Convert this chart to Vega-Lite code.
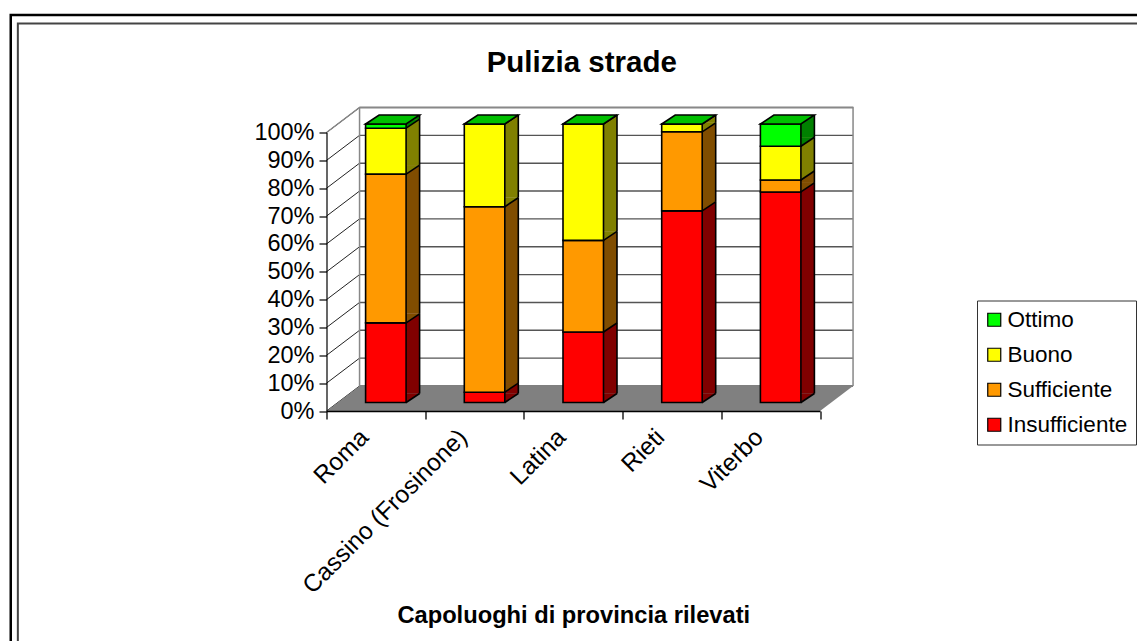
{
"$schema":"https://vega.github.io/schema/vega-lite/v6.json",
"autosize":{"type":"none"},
"padding":{"left":326.5,"top":107.5,"right":284,"bottom":230},
"width":526.5,"height":303.5,
"background":"white",
"config":{"view":{"stroke":null},"font":"Liberation Sans"},
"title":{"text":"Pulizia strade","font":"Liberation Sans","fontSize":29.5,"fontWeight":"bold","color":"black","anchor":"middle","dx":-8,"offset":-68},
"datasets":{
"scores":[
{"city":"Roma","giudizio":"Insufficiente","rank":1,"value":28.6},
{"city":"Roma","giudizio":"Sufficiente","rank":2,"value":53.4},
{"city":"Roma","giudizio":"Buono","rank":3,"value":16.5},
{"city":"Roma","giudizio":"Ottimo","rank":4,"value":1.5},
{"city":"Cassino (Frosinone)","giudizio":"Insufficiente","rank":1,"value":3.7},
{"city":"Cassino (Frosinone)","giudizio":"Sufficiente","rank":2,"value":66.6},
{"city":"Cassino (Frosinone)","giudizio":"Buono","rank":3,"value":29.7},
{"city":"Cassino (Frosinone)","giudizio":"Ottimo","rank":4,"value":0},
{"city":"Latina","giudizio":"Insufficiente","rank":1,"value":25.3},
{"city":"Latina","giudizio":"Sufficiente","rank":2,"value":32.9},
{"city":"Latina","giudizio":"Buono","rank":3,"value":41.8},
{"city":"Latina","giudizio":"Ottimo","rank":4,"value":0},
{"city":"Rieti","giudizio":"Insufficiente","rank":1,"value":68.8},
{"city":"Rieti","giudizio":"Sufficiente","rank":2,"value":28.4},
{"city":"Rieti","giudizio":"Buono","rank":3,"value":2.8},
{"city":"Rieti","giudizio":"Ottimo","rank":4,"value":0},
{"city":"Viterbo","giudizio":"Insufficiente","rank":1,"value":75.6},
{"city":"Viterbo","giudizio":"Sufficiente","rank":2,"value":4.3},
{"city":"Viterbo","giudizio":"Buono","rank":3,"value":12.1},
{"city":"Viterbo","giudizio":"Ottimo","rank":4,"value":8}
],
"levels":[{"pct":0},{"pct":10},{"pct":20},{"pct":30},{"pct":40},{"pct":50},{"pct":60},{"pct":70},{"pct":80},{"pct":90},{"pct":100}],
"base":[{"pct":0}]
},
"layer":[
{"data":{"name":"base"},
"mark":{"type":"point","shape":"M-365.1,300L-365.1,-396L800,-396","size":4,"filled":false,"stroke":"black","strokeWidth":2.5,"opacity":1},
"encoding":{
"x":{"datum":"Roma","type":"nominal","title":"Capoluoghi di provincia rilevati",
"scale":{"type":"band","domain":["Roma","Cassino (Frosinone)","Latina","Rieti","Viterbo"],"range":[0,493.5],"paddingInner":0,"paddingOuter":0},
"axis":{"zindex":1,"tickBand":"extent","domainColor":"black","domainWidth":1.5,"tickColor":"black","tickWidth":1.3,"tickSize":8,"labelAngle":-45,"labelAlign":"right","labelBaseline":"top","labelFontSize":24.5,"labelColor":"black","labelFont":"Liberation Sans","labelPadding":6,"labelOffset":-20,"labelOverlap":false,"labelLimit":400,"titleFont":"Liberation Sans","titleFontSize":23.7,"titleFontWeight":"bold","titleColor":"black","titleX":246.75,"titleY":211,"titleAnchor":"middle","titleBaseline":"alphabetic"}},
"y":{"field":"pct","type":"quantitative","title":null,
"scale":{"domain":[0,100],"range":[303.5,25],"nice":false},
"axis":{"zindex":1,"values":[0,10,20,30,40,50,60,70,80,90,100],"tickCount":11,"labelExpr":"datum.value+'%'","grid":false,"domainColor":"black","domainWidth":1.2,"tickColor":"black","tickWidth":1.2,"tickSize":7.5,"labelFontSize":23.5,"labelColor":"black","labelFont":"Liberation Sans","labelPadding":5,"labelOverlap":false}}
}},
{"data":{"name":"base"},
"mark":{"type":"point","shape":"M-358,300L-358,-387.5L800,-387.5","size":4,"filled":false,"stroke":"#444444","strokeWidth":2,"opacity":1},
"encoding":{"x":{"datum":"Roma","type":"nominal","title":"Capoluoghi di provincia rilevati"},"y":{"field":"pct","type":"quantitative","title":null}}},
{"data":{"name":"levels"},
"mark":{"type":"point","shape":"M-16.3,-25L477.2,-25","size":4,"filled":false,"stroke":"#555555","strokeWidth":1.4,"opacity":1},
"encoding":{"x":{"datum":"Roma","type":"nominal","title":"Capoluoghi di provincia rilevati"},"y":{"field":"pct","type":"quantitative","title":null}}},
{"data":{"name":"levels"},
"mark":{"type":"point","shape":"M-49.3,0L-16.3,-25","size":4,"filled":false,"stroke":"#222222","strokeWidth":1,"opacity":1},
"encoding":{"x":{"datum":"Roma","type":"nominal","title":"Capoluoghi di provincia rilevati"},"y":{"field":"pct","type":"quantitative","title":null}}},
{"data":{"name":"base"},
"mark":{"type":"point","shape":"M-16.3,-25L-16.3,-303.5M-49.3,-278.5L-16.3,-303.5L477.2,-303.5L477.2,-25","size":4,"filled":false,"stroke":"#888888","strokeWidth":1.5,"opacity":1},
"encoding":{"x":{"datum":"Roma","type":"nominal","title":"Capoluoghi di provincia rilevati"},"y":{"field":"pct","type":"quantitative","title":null}}},
{"data":{"name":"base"},
"mark":{"type":"point","shape":"M-49.3,0L-16.3,-25L477.2,-25L444.2,0Z","size":4,"filled":true,"fill":"#808080","opacity":1},
"encoding":{"x":{"datum":"Roma","type":"nominal","title":"Capoluoghi di provincia rilevati"},"y":{"field":"pct","type":"quantitative","title":null}}},
{"data":{"name":"scores"},
"transform":[{"stack":"value","groupby":["city"],"sort":[{"field":"rank","order":"ascending"}],"as":["low","high"]}],
"layer":[
{"mark":{"type":"bar","width":13.5,"xOffset":37,"yOffset":-17.5,"y2Offset":-17.5},
"encoding":{"x":{"field":"city","type":"nominal","title":"Capoluoghi di provincia rilevati"},"y":{"field":"high","type":"quantitative","title":null},"y2":{"field":"low"},
"fill":{"field":"giudizio","type":"nominal","legend":null,"scale":{"domain":["Insufficiente","Sufficiente","Buono","Ottimo"],"range":["#800000","#804D00","#808000","#008000"]}}}},
{"mark":{"type":"point","shape":"M30.25,-8.5L30.25,-17.5L43.75,-17.5Z","size":4,"filled":true,"opacity":1},
"encoding":{"x":{"field":"city","type":"nominal","title":"Capoluoghi di provincia rilevati"},"y":{"field":"low","type":"quantitative","title":null},
"fill":{"field":"giudizio","type":"nominal","legend":null}}},
{"mark":{"type":"point","shape":"M30.25,-8.5L43.75,-17.5","size":4,"filled":false,"stroke":"black","strokeWidth":1.6,"opacity":1},
"encoding":{"x":{"field":"city","type":"nominal","title":"Capoluoghi di provincia rilevati"},"y":{"field":"low","type":"quantitative","title":null}}},
{"mark":{"type":"rule","xOffset":43.75,"yOffset":-17.5,"y2Offset":-17.5,"stroke":"black","strokeWidth":1.6},
"encoding":{"x":{"field":"city","type":"nominal","title":"Capoluoghi di provincia rilevati"},"y":{"field":"high","type":"quantitative","title":null},"y2":{"field":"low"}}},
{"mark":{"type":"bar","width":40.5,"xOffset":10,"yOffset":-8.5,"y2Offset":-8.5,"stroke":"black","strokeWidth":1.6},
"encoding":{"x":{"field":"city","type":"nominal","title":"Capoluoghi di provincia rilevati"},"y":{"field":"high","type":"quantitative","title":null},"y2":{"field":"low"},
"color":{"field":"giudizio","type":"nominal","title":null,
"scale":{"domain":["Ottimo","Buono","Sufficiente","Insufficiente"],"range":["#00FF00","#FFFF00","#FF9900","#FF0000"]},
"legend":{"orient":"none","legendX":650.5,"legendY":193,"symbolType":"square","symbolSize":169,"symbolOffset":-2,"symbolStrokeColor":"black","symbolStrokeWidth":1.2,"labelFont":"Liberation Sans","labelFontSize":22.5,"labelColor":"black","labelLimit":200,"labelOffset":2,"rowPadding":12,"fillColor":"white","strokeColor":"#333333","padding":8}}}},
{"transform":[{"filter":"datum.rank==4"}],
"mark":{"type":"point","shape":"M-10.25,-8.5L3.25,-17.5L43.75,-17.5L30.25,-8.5Z","size":4,"filled":true,"fill":"#00BF00","stroke":"black","strokeWidth":1.6,"opacity":1},
"encoding":{"x":{"field":"city","type":"nominal","title":"Capoluoghi di provincia rilevati"},"y":{"field":"high","type":"quantitative","title":null}}}
]}
]
}
